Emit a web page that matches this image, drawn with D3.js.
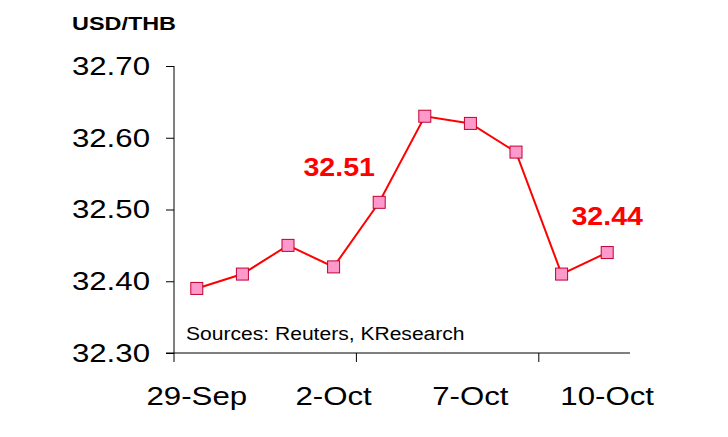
<!DOCTYPE html>
<html><head><meta charset="utf-8">
<script src="https://cdn.jsdelivr.net/npm/d3@7"></script>
<style>body{margin:0;background:#fff}</style>
</head><body>
<script>
const dates = ["29-Sep","30-Sep","1-Oct","2-Oct","3-Oct","6-Oct","7-Oct","8-Oct","9-Oct","10-Oct"];
const rates = [32.39, 32.41, 32.45, 32.42, 32.51, 32.63, 32.62, 32.58, 32.41, 32.44];
const yTicks = [32.30, 32.40, 32.50, 32.60, 32.70];
const shownLabels = ["29-Sep","2-Oct","7-Oct","10-Oct"];
const callouts = [{i: 4, dx: -40, dy: -26}, {i: 9, dx: 0, dy: -28}];

const svg = d3.select("body").append("svg").attr("width", 728).attr("height", 437)
    .style("font-family", "Liberation Sans, Arial, sans-serif");

// the reference text is stretched horizontally
function stretch(sel, f) {
    sel.each(function() {
        const w = this.getComputedTextLength();
        d3.select(this).attr("textLength", w * f).attr("lengthAdjust", "spacingAndGlyphs");
    });
}

const x = d3.scaleBand().domain(dates).range([174, 630]);
const y = d3.scaleLinear().domain([32.30, 32.70]).range([353, 66]);

// y axis
const ya = svg.append("g").attr("transform", "translate(174,0)")
    .call(d3.axisLeft(y).tickValues(yTicks).tickFormat(d3.format(".2f")).tickSize(8).tickPadding(16));
ya.select(".domain").attr("d", "M0,66V353").attr("stroke", "#000");
ya.selectAll("text").attr("font-size", 26).attr("fill", "#000").call(stretch, 1.2);

// x axis
svg.append("line").attr("x1", 166).attr("x2", 630).attr("y1", 353).attr("y2", 353).attr("stroke", "#000");
[0, 4, 8].forEach(i => {
    svg.append("line").attr("x1", x(dates[i])).attr("x2", x(dates[i]))
        .attr("y1", 353).attr("y2", 362).attr("stroke", "#000");
});
svg.selectAll(".xl").data(shownLabels).enter().append("text")
    .attr("x", d => x(d) + x.bandwidth() / 2).attr("y", 405)
    .attr("text-anchor", "middle").attr("font-size", 26).text(d => d).call(stretch, 1.2);

svg.append("text").attr("x", 72).attr("y", 30).attr("font-size", 18).attr("font-weight", "bold")
    .text("USD/THB").call(stretch, 1.3);
svg.append("text").attr("x", 186).attr("y", 340).attr("font-size", 18)
    .text("Sources: Reuters, KResearch").call(stretch, 1.17);

const cx = d => x(d) + x.bandwidth() / 2;
svg.append("path").datum(rates)
    .attr("d", d3.line().x((d, i) => cx(dates[i])).y(d => y(d)))
    .attr("fill", "none").attr("stroke", "#f00").attr("stroke-width", 2);

svg.selectAll(".m").data(rates).enter().append("rect")
    .attr("x", (d, i) => cx(dates[i]) - 6).attr("y", d => y(d) - 6)
    .attr("width", 12).attr("height", 12)
    .attr("fill", "#ff99cc").attr("stroke", "#c00030").attr("stroke-width", 1);

svg.selectAll(".c").data(callouts).enter().append("text")
    .attr("x", d => cx(dates[d.i]) + d.dx).attr("y", d => y(rates[d.i]) + d.dy)
    .attr("text-anchor", "middle").attr("font-size", 26).attr("font-weight", "bold")
    .attr("fill", "#f00").text(d => rates[d.i].toFixed(2)).call(stretch, 1.1);
</script>
</body></html>
